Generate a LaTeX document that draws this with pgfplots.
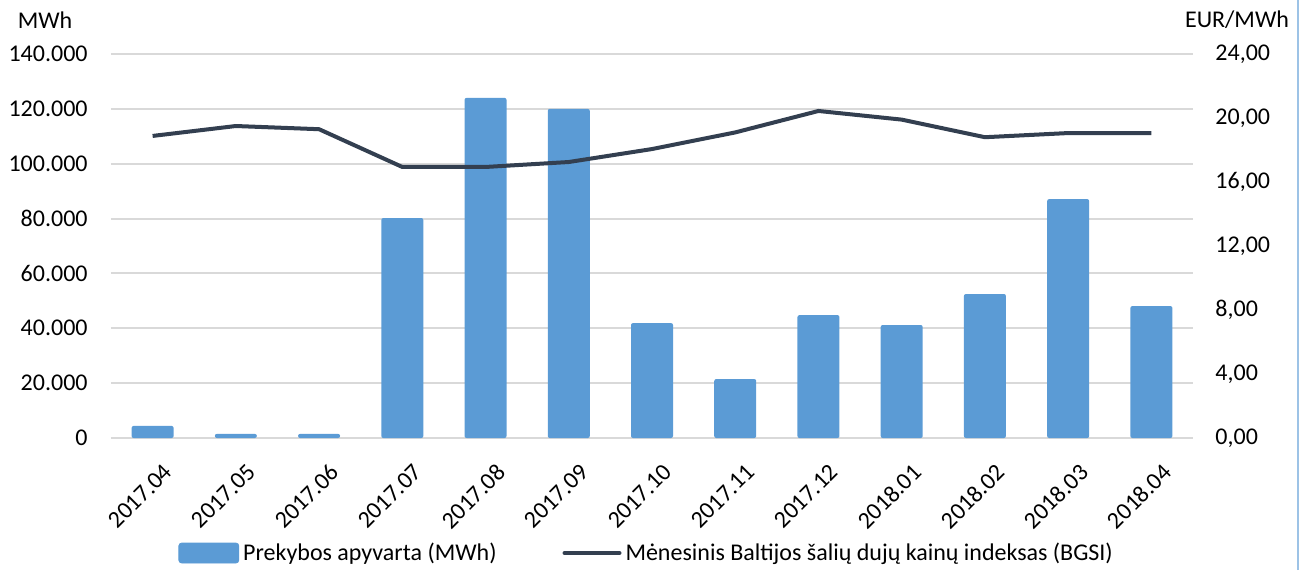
\documentclass[border=0pt]{standalone}
\usepackage{fontspec}
\setmainfont{Carlito}
\usepackage{pgfplots}
\pgfplotsset{compat=1.18}
\definecolor{barblue}{HTML}{5B9BD5}
\definecolor{linedark}{HTML}{333F50}
\definecolor{gridgray}{HTML}{D9D9D9}
\definecolor{frameblue}{HTML}{9DC3E6}
\begin{document}
\begin{tikzpicture}[font=\fontsize{12}{14}\selectfont]
\begin{axis}[
  at={(0,0)}, anchor=south west,
  scale only axis, width=541pt, height=192pt,
  xmin=-0.5, xmax=12.5, ymin=0, ymax=140000,
  axis line style={draw=none},
  major tick length=0pt,
  xtick={0,...,12},
  xticklabels={2017.04,2017.05,2017.06,2017.07,2017.08,2017.09,2017.10,2017.11,2017.12,2018.01,2018.02,2018.03,2018.04},
  xticklabel style={rotate=45, anchor=north east, inner sep=1pt, yshift=-11pt, xshift=-4pt},
  ytick={0,20000,40000,60000,80000,100000,120000,140000},
  scaled y ticks=false,
  yticklabel style={inner sep=0pt, xshift=-11.5pt},
  /pgf/number format/fixed,
  /pgf/number format/precision=0,
  /pgf/number format/1000 sep={.},
  /pgf/number format/assume math mode=true,
  ymajorgrids, grid style={gridgray, line width=1pt},
  tick label style={font=\fontsize{12}{14}\selectfont},
]
\addplot[ybar, bar width=21pt, fill=barblue, draw=none, rounded corners=1pt] coordinates {
(0,4400) (1,1500) (2,1500) (3,80200) (4,124000) (5,120000) (6,41900) (7,21500) (8,44800) (9,41200) (10,52500) (11,87100) (12,48100)};
\end{axis}
\begin{axis}[
  at={(0,0)}, anchor=south west,
  scale only axis, width=541pt, height=192pt,
  xmin=-0.5, xmax=12.5, ymin=0, ymax=24,
  axis y line*=right, axis x line=none,
  axis line style={draw=none},
  major tick length=0pt,
  ytick={0,4,8,12,16,20,24},
  yticklabel style={inner sep=0pt, xshift=11pt},
  /pgf/number format/fixed, /pgf/number format/fixed zerofill,
  /pgf/number format/precision=2, /pgf/number format/use comma,
  /pgf/number format/assume math mode=true,
  tick label style={font=\fontsize{12}{14}\selectfont},
  legend style={at={(0.496,-0.2995)}, anchor=center, draw=none, fill=none,
    legend columns=2, font=\fontsize{12}{14}\selectfont,
    /tikz/every even column/.append style={column sep=31pt}},
  legend cell align=left,
]
\addlegendimage{legend image code/.code={\fill[barblue, rounded corners=1.5pt] (0pt,-5pt) rectangle (30pt,5pt);}}
\addlegendentry{Prekybos apyvarta (MWh)}
\addplot[linedark, line width=2pt, line join=round, mark=none,
  legend image code/.code={\draw[linedark, line width=2pt, line cap=round] (0pt,0pt) -- (27.5pt,0pt);}] coordinates {
(0,18.88) (1,19.5) (2,19.3) (3,16.94) (4,16.94) (5,17.25) (6,18.06) (7,19.1) (8,20.44) (9,19.9) (10,18.8) (11,19.06) (12,19.06)};
\addlegendentry{Mėnesinis Baltijos šalių dujų kainų indeksas (BGSI)}
\end{axis}
\node at (-33pt,209pt) {MWh};
\node at (563pt,209pt) {EUR/MWh};
\draw[frameblue, line width=0.75pt] (593.5pt,-66pt) -- (593.5pt,219pt);
\pgfresetboundingbox
\useasboundingbox (-55.5pt,-66pt) rectangle (597pt,219pt);
\end{tikzpicture}
\end{document}
